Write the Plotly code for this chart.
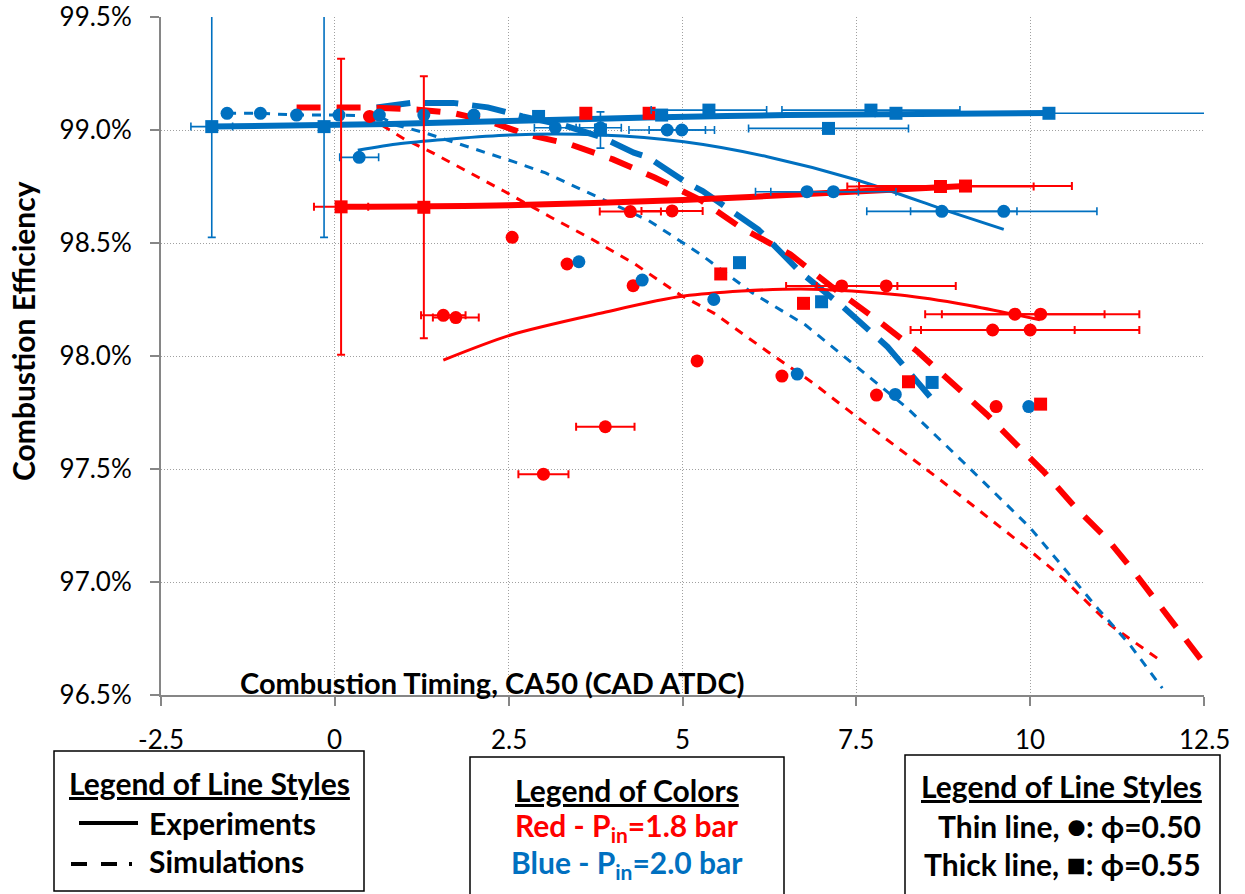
import plotly.graph_objects as go

RED = "#FF0000"
BLUE = "#0070C0"
AXIS_GRAY = "#868686"
GRID_GRAY = "#A0A0A0"
FONT = "Lato, 'Open Sans', sans-serif"

# ---------------- axis ticks ----------------
x_ticks = [-2.5, 0, 2.5, 5, 7.5, 10, 12.5]
x_tick_text = ["-2.5", "0", "2.5", "5", "7.5", "10", "12.5"]
y_ticks = [96.5, 97.0, 97.5, 98.0, 98.5, 99.0, 99.5]
y_tick_text = ["96.5%", "97.0%", "97.5%", "98.0%", "98.5%", "99.0%", "99.5%"]

# ---------------- experiments: P_in = 1.8 bar, phi = 0.50 (circles) ----------------
exp_red50_x = [0.50, 1.56, 1.74, 2.55, 3.00, 3.34, 3.89, 4.25, 4.29, 4.85, 5.21, 6.43,
               7.29, 7.79, 7.93, 9.46, 9.51, 9.78, 10.00, 10.15]
exp_red50_y = [99.06, 98.18, 98.17, 98.525, 97.477, 98.407, 97.687, 98.639, 98.311, 98.642,
               97.978, 97.911, 98.31, 97.827, 98.31, 98.115, 97.776, 98.185, 98.115, 98.185]
exp_red50_xerr = [0, 0.32, 0.33, 0, 0.36, 0, 0.42, 0.44, 0, 0.44, 0, 0,
                  0.80, 0, 1.00, 1.18, 0, 1.29, 1.57, 1.42]
fit_red50_x = [1.56, 2.53, 3.82, 5.02, 6.70, 8.13, 9.09, 10.14]
fit_red50_y = [97.982, 98.093, 98.189, 98.265, 98.297, 98.270, 98.226, 98.160]

# ---------------- experiments: P_in = 1.8 bar, phi = 0.55 (squares) ----------------
exp_red55_x = [0.09, 1.28, 3.61, 4.52, 5.55, 6.74, 8.25, 8.71, 9.07, 10.15]
exp_red55_y = [98.66, 98.658, 99.074, 99.074, 98.363, 98.233, 97.886, 98.75, 98.752, 97.787]
exp_red55_xerr = [0.39, 0, 0, 0, 0, 0, 0, 1.34, 1.53, 0]
exp_red55_yerr = [0.655, 0.58, 0, 0, 0, 0, 0, 0, 0, 0]
fit_red55_x = [0.09, 2.5, 5.0, 7.0, 9.07]
fit_red55_y = [98.66, 98.667, 98.69, 98.72, 98.752]

# ---------------- experiments: P_in = 2.0 bar, phi = 0.50 (circles) ----------------
exp_blue50_x = [-1.55, -1.07, -0.55, 0.06, 0.35, 0.64, 1.28, 2.00, 3.17, 3.51, 3.82, 4.42,
                4.78, 4.99, 5.45, 6.65, 6.79, 7.17, 8.06, 8.73, 9.62, 9.98]
exp_blue50_y = [99.074, 99.074, 99.066, 99.066, 98.879, 99.066, 99.066, 99.066, 99.01, 98.417,
                99.01, 98.336, 99.0, 99.0, 98.25, 97.92, 98.727, 98.727, 97.83, 98.64, 98.64, 97.776]
exp_blue50_xerr = [0, 0, 0, 0, 0.28, 0, 0, 0, 0.3, 0, 0.3, 0,
                   0.55, 0.47, 0, 0, 0.74, 0.9, 0, 1.08, 1.34, 0]
fit_blue50_x = [0.33, 0.95, 2.53, 3.82, 5.02, 6.22, 7.51, 8.85, 9.62]
fit_blue50_y = [98.91, 98.94, 98.978, 98.978, 98.948, 98.882, 98.779, 98.638, 98.56]

# ---------------- experiments: P_in = 2.0 bar, phi = 0.55 (squares) ----------------
exp_blue55_x = [-1.77, -0.155, 2.93, 3.82, 4.70, 5.38, 5.82, 7.00, 7.10, 7.71, 8.07, 8.59, 10.27]
exp_blue55_y = [99.015, 99.015, 99.06, 99.0, 99.066, 99.088, 98.413, 98.24, 99.007, 99.088,
                99.074, 97.883, 99.074]
exp_blue55_xerr = [0.3, 0, 0, 0, 0, 0.83, 0, 0, 1.15, 1.28, 0, 0, 2.5]
exp_blue55_yerr = [0.49, 0.49, 0, 0.08, 0, 0, 0, 0, 0, 0, 0, 0, 0]
fit_blue55_x = [-1.77, 0.8, 2.5, 4.5, 6.5, 10.27]
fit_blue55_y = [99.015, 99.027, 99.04, 99.055, 99.066, 99.075]

# ---------------- simulations ----------------
sim_red50_x = [0.47, 0.8, 1.0, 1.4, 1.95, 2.43, 3.1, 3.68, 4.3, 4.97, 5.45, 6.22, 6.88,
               7.51, 8.71, 9.93, 10.46, 11.15, 11.9]
sim_red50_y = [99.06, 99.0, 98.96, 98.9, 98.81, 98.73, 98.615, 98.52, 98.41, 98.27, 98.19,
               98.02, 97.88, 97.73, 97.451, 97.156, 97.02, 96.81, 96.647]
sim_blue50_x = [-1.55, -1.07, -0.55, 0.06, 0.64, 0.9, 1.27, 1.77, 2.24, 2.57, 3.03, 3.56,
                4.51, 5.26, 6.0, 6.77, 7.39, 8.23, 9.04, 10.0, 10.98, 11.44, 11.9]
sim_blue50_y = [99.074, 99.074, 99.066, 99.066, 99.06, 99.02, 98.99, 98.94, 98.89, 98.86,
                98.81, 98.735, 98.6, 98.45, 98.28, 98.137, 97.98, 97.77, 97.53, 97.24,
                96.88, 96.72, 96.53]
sim_red55_x = [-0.55, 0.5, 1.2, 1.7, 2.2, 2.76, 3.35, 4.0, 4.6, 5.26, 5.83, 6.55, 7.13,
               7.84, 8.38, 8.88, 9.38, 9.86, 10.19, 10.65, 11.11, 11.48, 12.5]
sim_red55_y = [99.1, 99.1, 99.09, 99.075, 99.04, 98.98, 98.94, 98.87, 98.79, 98.69, 98.57,
               98.45, 98.31, 98.15, 98.02, 97.88, 97.74, 97.59, 97.49, 97.33, 97.19, 97.05,
               96.64]
sim_blue55_x = [0.6, 1.1, 1.7, 2.2, 2.7, 3.3, 3.82, 4.3, 4.5, 5.04, 5.29, 5.88, 6.09, 6.7,
                7.3, 7.95, 8.56]
sim_blue55_y = [99.1, 99.12, 99.12, 99.1, 99.06, 99.02, 98.97, 98.9, 98.88, 98.77, 98.73,
                98.6, 98.56, 98.37, 98.22, 98.04, 97.82]

fig = go.Figure()


def add_line(x, y, color, width, dash="solid", shape="linear"):
    fig.add_trace(go.Scatter(x=x, y=y, mode="lines", hoverinfo="skip",
                             line=dict(color=color, width=width, dash=dash, shape=shape,
                                       smoothing=0.8)))


def add_points(x, y, color, symbol, xerr=None, yerr=None, err_width=2):
    trace = dict(x=x, y=y, mode="markers", hoverinfo="skip",
                 marker=dict(color=color, symbol=symbol, size=13, line=dict(width=0)))
    if xerr is not None:
        trace["error_x"] = dict(type="data", array=xerr, symmetric=True, color=color,
                                thickness=err_width, width=4)
    if yerr is not None:
        trace["error_y"] = dict(type="data", array=yerr, symmetric=True, color=color,
                                thickness=err_width, width=4)
    fig.add_trace(go.Scatter(**trace))


# simulations (dashed)
add_line(sim_red50_x, sim_red50_y, RED, 3, "9px,8px")
add_line(sim_blue50_x, sim_blue50_y, BLUE, 3, "9px,8px")
add_line(sim_blue55_x, sim_blue55_y, BLUE, 6, "34px,14px")
add_line(sim_red55_x, sim_red55_y, RED, 6, "24px,16px")

# experiment fits (solid)
add_line(fit_red50_x, fit_red50_y, RED, 3, shape="spline")
add_line(fit_blue50_x, fit_blue50_y, BLUE, 3, shape="spline")
add_line(fit_red55_x, fit_red55_y, RED, 6, shape="spline")
add_line(fit_blue55_x, fit_blue55_y, BLUE, 6, shape="spline")

# experiment points
add_points(exp_red50_x, exp_red50_y, RED, "circle", xerr=exp_red50_xerr)
add_points(exp_blue50_x, exp_blue50_y, BLUE, "circle", xerr=exp_blue50_xerr, err_width=1.6)
add_points(exp_red55_x, exp_red55_y, RED, "square", xerr=exp_red55_xerr, yerr=exp_red55_yerr)
add_points(exp_blue55_x, exp_blue55_y, BLUE, "square", xerr=exp_blue55_xerr,
           yerr=exp_blue55_yerr, err_width=1.6)

# ---------------- layout geometry (pixels) ----------------
W_FIG, H_FIG = 1245, 894
L, T, R, B = 161, 17, 41, 199
PW, PH = W_FIG - L - R, H_FIG - T - B


def px(x):
    return (x - L) / PW


def py(y):
    return (T + PH - y) / PH


annotations = []
shapes = []


def text(x, y, s, size=30, color="black", xanchor="center", angle=0):
    annotations.append(dict(x=px(x), y=py(y), xref="paper", yref="paper", text=s,
                            showarrow=False, xanchor=xanchor, yanchor="middle",
                            textangle=angle,
                            font=dict(family=FONT, size=size, color=color)))


def box(x0, y0, x1, y1):
    shapes.append(dict(type="rect", xref="paper", yref="paper", x0=px(x0), x1=px(x1),
                       y0=py(y1), y1=py(y0), line=dict(color="black", width=1.5),
                       fillcolor="white", layer="above"))


def seg(x0, x1, y, width=4):
    shapes.append(dict(type="line", xref="paper", yref="paper", x0=px(x0), x1=px(x1),
                       y0=py(y), y1=py(y), line=dict(color="black", width=width),
                       layer="above"))


# x tick labels, set well below the axis line
for tv, tt in zip(x_ticks, x_tick_text):
    annotations.append(dict(x=tv, y=py(739), xref="x", yref="paper", text=tt,
                            showarrow=False, xanchor="center", yanchor="middle",
                            font=dict(family=FONT, size=26, color="black")))

# axis titles
text(492, 682, "<b>Combustion Timing, CA50 (CAD ATDC)</b>", size=29)
text(23, 331, "<b>Combustion Efficiency</b>", size=30, angle=-90)

# legend of line styles (experiments / simulations)
box(54, 751, 364, 891)
text(209, 783, "<b><u>Legend of Line Styles</u></b>")
seg(79, 138, 823)
text(147, 823, "<b>Experiments</b>", xanchor="left")
seg(71, 87, 864)
seg(101, 117, 864)
seg(129, 132, 864)
text(147, 861, "<b>Simulations</b>", xanchor="left")

# legend of colors
box(470, 757, 784, 900)
text(627, 790, "<b><u>Legend of Colors</u></b>")
text(627, 827, "<b>Red - P<sub>in</sub>=1.8 bar</b>", color=RED)
text(627, 864, "<b>Blue - P<sub>in</sub>=2.0 bar</b>", color=BLUE)

# legend of line thickness / symbols
box(905, 755, 1220, 900)
text(1061, 786, "<b><u>Legend of Line Styles</u></b>")
text(1203, 825, "<b>Thin line, <span style=\"font-size:32px\">\u25CF</span>: \u03D5=0.50</b>",
     xanchor="right")
text(1203, 863, "<b>Thick line, <span style=\"font-size:32px\">\u25A0</span>: \u03D5=0.55</b>",
     xanchor="right")

axis_common = dict(showline=True, linecolor=AXIS_GRAY, linewidth=2, ticks="outside",
                   ticklen=9, tickwidth=2, tickcolor=AXIS_GRAY, showgrid=True,
                   gridcolor=GRID_GRAY, gridwidth=1, griddash="1px,2px", zeroline=False,
                   tickfont=dict(family=FONT, size=26, color="black"), mirror=False,
                   automargin=False)

fig.update_layout(
    width=W_FIG, height=H_FIG,
    margin=dict(l=L, r=R, t=T, b=B, pad=0, autoexpand=False),
    paper_bgcolor="white", plot_bgcolor="white",
    showlegend=False,
    xaxis=dict(range=[-2.5, 12.5], tickmode="array", tickvals=x_ticks, showticklabels=False,
               **axis_common),
    yaxis=dict(range=[96.5, 99.5], tickmode="array", tickvals=y_ticks, ticktext=y_tick_text,
               ticklabelstandoff=13, **axis_common),
    annotations=annotations,
    shapes=shapes,
)

fig.write_html("out.html")
